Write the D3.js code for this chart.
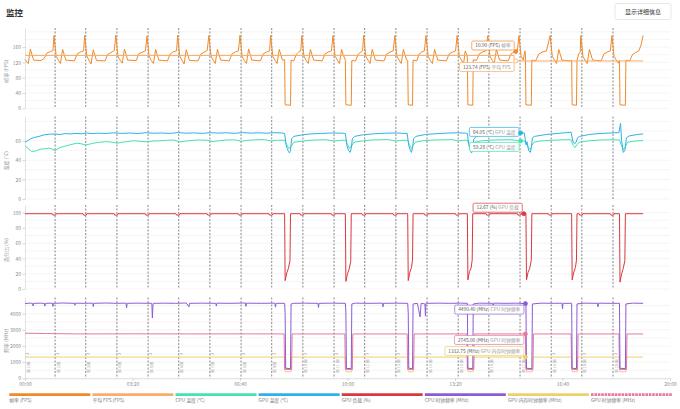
<!DOCTYPE html>
<html>
<head>
<meta charset="utf-8">
<script src="https://cdn.jsdelivr.net/npm/d3@7"></script>
<style>
  body { margin: 0; background: #fff; font-family: "Noto Sans CJK SC", "Noto Sans", sans-serif; }
</style>
</head>
<body>
<svg id="chart" width="680" height="409"></svg>
<script>
////////////////////////////////////////////////////////////////////////
// Data (time in seconds, value)

const lapStarts = [0, 56, 113, 171, 229, 286, 344, 402, 459, 517, 575, 632, 690, 748, 806, 863, 921, 979, 1036, 1094];

const timeTicks = [0, 200, 400, 600, 800, 1000, 1200];

const fpsData = [
  [0,128],[3,122],[6,117],[10,155],[13,140],[16,126],[30,125],[36,131],[41,145],[47,148],[52,151],[54,190],
  [58,136],[62,126],[66,117],[70,154],[73,140],[76,126],[92,124],[97,142],[103,147],[109,150],[111,190],
  [115,137],[119,125],[123,116],[127,153],[130,139],[133,125],[149,124],[154,141],[160,146],[166,151],[169,191],
  [173,135],[177,126],[181,118],[185,155],[188,141],[191,126],[207,125],[212,143],[218,147],[224,150],[227,189],
  [231,136],[235,125],[239,117],[243,154],[246,140],[249,126],[265,124],[270,142],[276,148],[282,150],[284,190],
  [288,136],[292,126],[296,116],[300,153],[303,139],[306,125],[322,124],[327,141],[333,147],[339,151],[342,190],
  [346,137],[350,126],[354,117],[358,154],[361,140],[364,126],[380,124],[385,142],[391,147],[397,150],[400,191],
  [404,136],[408,125],[412,117],[416,155],[419,141],[422,126],[438,124],[443,142],[449,147],[455,150],[457,190],
  [461,136],[465,126],[469,117],[473,154],[476,140],[479,126],[483,127],[484,9],[494,8],[495,126],[500,124],[505,142],[509,147],[513,150],[515,190],
  [519,136],[523,125],[527,117],[531,154],[534,140],[537,126],[553,124],[558,142],[564,147],[570,150],[573,190],
  [577,136],[581,126],[585,117],[589,154],[592,140],[596,126],[597,9],[607,8],[608,125],[615,124],[620,142],[625,147],[628,150],[630,190],
  [634,136],[638,126],[642,117],[646,154],[649,140],[652,126],[668,124],[673,142],[679,147],[685,150],[688,190],
  [692,136],[696,126],[700,117],[704,154],[707,140],[710,126],[712,125],[713,9],[721,8],[722,126],[729,124],[733,142],[738,147],[743,150],[746,190],
  [750,136],[754,125],[758,117],[762,154],[765,140],[768,126],[784,124],[789,142],[795,147],[801,150],[804,190],
  [808,136],[812,126],[816,117],[819,150],[822,140],[823,130],[824,9],[833,8],[834,127],[840,125],[845,142],[851,147],[857,150],[861,190],
  [865,136],[869,126],[873,117],[877,154],[880,140],[883,126],[899,124],[904,142],[910,147],[916,150],[919,190],
  [923,136],[927,126],[930,150],[931,140],[932,9],[942,8],[943,126],[950,124],[956,142],[962,147],[970,150],[977,190],
  [981,136],[985,126],[989,117],[993,154],[996,140],[999,126],[1015,124],[1017,126],[1018,9],[1026,8],[1027,125],[1030,142],[1033,147],[1034,190],
  [1038,136],[1042,126],[1046,117],[1050,154],[1053,140],[1056,126],[1072,124],[1077,142],[1083,147],[1089,150],[1092,190],
  [1096,136],[1100,126],[1104,118],[1106,125],[1107,9],[1117,8],[1118,126],[1125,124],[1130,140],[1136,146],[1142,150],[1146,165],[1150,190]
];

const avgFpsData = [[0,138.2],[910,138.2],[910,123.74],[1150,123.74]];

const gpuTempData = [
  [0,58.5],[5,60],[10,62],[18,63.5],[26,64.5],[35,66],[45,66.8],[55,67],[65,66.5],[75,67.4],[85,67],[95,67.6],[105,67.2],
  [115,68],[125,67.4],[135,67.8],[150,67.5],[165,68.2],[180,67.6],[195,68],[210,67.5],[225,68.3],[240,67.8],[255,68],
  [270,67.6],[285,68.4],[300,67.8],[315,68.1],[330,67.6],[345,68.3],[360,67.9],[375,68.2],[390,67.7],[405,68.4],[420,67.9],
  [435,68.2],[450,67.8],[465,68.3],[478,68],[483,67.5],[486,55],[488,52],[490,49],[492,47.5],[494,50],[496,62],[500,64.5],
  [515,66],[530,67],[550,67.5],[570,68],[590,67.8],[596,67.5],[599,55],[602,50],[605,48],[607,52],[609,62],[613,64.5],
  [630,66.3],[650,67.2],[670,67.8],[690,68],[705,67.6],[711,67.5],[714,55],[717,50],[719,48],[721,53],[723,62],[727,64.5],
  [745,66.5],[765,67.3],[785,67.9],[805,68.2],[820,67.8],[823,67.5],[826,55],[829,49],[831,47.5],[833,52],[835,62],[840,64.5],
  [860,66.5],[880,67.4],[900,68],[915,68.2],[929,68],[932,56],[934,59],[937,50],[940,48],[942,53],[944,63],[948,64.5],
  [970,66.5],[990,67.5],[1010,68.5],[1016,68.8],[1019,60],[1022,57],[1025,58],[1028,63],[1032,64.5],[1050,66.5],[1070,67.5],
  [1090,68],[1105,68.4],[1108,78],[1110,60],[1113,48],[1116,50],[1119,63],[1124,65],[1140,66.5],[1150,67]
];

const cpuTempData = [
  [0,54.8],[5,52.5],[12,49],[20,49.5],[28,51.4],[38,51.8],[46,52.4],[52,51],[56,49.9],[60,51.5],[65,53],[75,54.5],[85,56],
  [96,57.5],[104,57],[112,55.7],[120,56.5],[127,57.5],[140,58.5],[152,59.1],[162,58.5],[171,57.5],[185,58.8],[202,60],
  [214,59.5],[226,59],[240,59.8],[251,60],[265,60.5],[276,60.8],[288,58.8],[300,59.8],[315,60.5],[326,60.8],[340,60.4],
  [350,59.2],[360,60],[375,60.8],[390,61],[402,59.5],[415,60.5],[430,61],[445,61.2],[459,59.8],[470,60.6],[483,60.5],
  [487,56],[491,52],[495,54],[500,58.5],[515,59.5],[530,60.5],[545,60.8],[560,61],[575,59.8],[590,60.6],[597,60.5],
  [600,56],[604,52],[608,55],[612,58.5],[630,60],[645,60.8],[660,61],[675,61.2],[690,59.8],[705,60.6],[712,60.5],
  [715,56],[719,52],[722,55],[726,58.5],[740,60],[760,60.8],[780,61],[795,61.2],[806,59.8],[815,60.5],[823,60.5],
  [826,56],[830,52],[833,55],[837,58.5],[850,60],[870,60.8],[890,61],[905,61],[921,59.8],[928,60],[932,58],[936,53],
  [940,51],[943,55],[947,58.5],[960,59.8],[980,60.5],[1000,61],[1016,61],[1019,56],[1023,53],[1027,56],[1031,58.5],
  [1050,60],[1070,60.8],[1090,61],[1106,60.8],[1109,56],[1113,51],[1117,54],[1121,58.5],[1135,59.8],[1150,60.2]
];

const gpuLoadData = [
  [0,98.6],[51,98.6],[52,96.8],[57,96.8],[58,98.6],[108,98.6],[109,96.8],[114,96.8],[115,98.6],[166,98.6],[167,96.8],
  [172,96.8],[173,98.6],[224,98.6],[225,96.8],[230,96.8],[231,98.6],[281,98.6],[282,96.8],[287,96.8],[288,98.6],
  [339,98.6],[340,96.8],[345,96.8],[346,98.6],[397,98.6],[398,96.8],[403,96.8],[404,98.6],[454,98.6],[455,96.8],
  [460,96.8],[461,98.6],[483,98.6],[484,11],[487,21],[490,27],[493,37],[494,98.6],[512,98.6],[513,96.8],[518,96.8],
  [519,98.6],[570,98.6],[571,96.8],[576,96.8],[577,98.6],[596,98.6],[597,10],[600,20],[603,26],[606,36],[607,98.6],
  [627,98.6],[628,96.8],[633,96.8],[634,98.6],[685,98.6],[686,96.8],[691,96.8],[692,98.6],[712,98.6],[713,11],[716,22],
  [719,28],[721,38],[722,98.6],[743,98.6],[744,96.8],[749,96.8],[750,98.6],[801,98.6],[802,96.8],[807,96.8],[808,98.6],
  [823,98.6],[824,12],[827,23],[830,27.5],[832,38],[833,98.6],[858,98.6],[859,96.8],[864,96.8],[865,98.6],[916,98.6],
  [917,96.8],[922,96.8],[923,98.6],[932,98.6],[933,12],[936,22],[939,27],[942,38],[943,98.6],[974,98.6],[975,96.8],
  [980,96.8],[981,98.6],[1017,98.6],[1018,12],[1021,22],[1024,28],[1026,38],[1027,98.6],[1031,98.6],[1032,96.8],
  [1037,96.8],[1038,98.6],[1089,98.6],[1090,96.8],[1095,96.8],[1096,98.6],[1106,98.6],[1107,9],[1110,20],[1113,27],
  [1116,37],[1117,98.6],[1150,98.6]
];

const cpuClockData = [
  [0,4630],[10,4650],[14,4640],[15,4480],[16,4640],[30,4650],[36,4630],[37,4470],[38,4640],[51,4650],[52,4450],[53,4640],
  [70,4660],[92,4640],[93,4520],[94,4650],[110,4640],[126,4650],[127,4440],[128,4640],[150,4660],[170,4640],[188,4650],
  [189,4350],[190,4640],[210,4650],[236,4640],[237,3730],[238,4500],[239,4640],[260,4650],[280,4640],[300,4660],
  [305,4420],[306,4640],[330,4650],[355,4640],[356,4470],[357,4650],[380,4640],[410,4660],[411,4450],[412,4650],
  [440,4640],[465,4650],[466,4400],[467,4640],[483,4640],[484,4000],[485,620],[494,600],[495,4600],[500,4640],[520,4650],
  [545,4640],[546,4380],[547,4640],[570,4650],[596,4640],[597,4100],[598,610],[607,600],[608,4600],[615,4650],[640,4640],
  [665,4650],[666,4420],[667,4640],[690,4650],[712,4640],[713,4050],[714,620],[721,600],[722,4600],[730,4640],[735,3800],
  [737,4640],[744,4600],[745,3850],[746,4640],[770,4650],[790,4640],[810,4650],[823,4640],[824,620],[833,600],[834,4600],
  [845,4650],[870,4640],[871,4450],[872,4650],[895,4640],[915,4650],[932,4620],[933,620],[943,600],[944,4600],[960,4650],
  [985,4640],[999,4650],[1000,4300],[1001,4640],[1017,4640],[1018,620],[1026,600],[1027,4600],[1040,4650],[1065,4640],
  [1066,4420],[1067,4650],[1090,4640],[1106,4640],[1107,620],[1117,600],[1118,4600],[1130,4650],[1150,4640]
];

const gpuClockData = [
  [0,2790],[40,2770],[100,2745],[200,2752],[300,2745],[400,2750],[482,2745],[483,560],[496,540],[497,2745],[595,2745],
  [596,560],[609,540],[610,2745],[711,2745],[712,560],[723,540],[724,2745],[822,2745],[823,560],[835,540],[836,2745],
  [931,2745],[932,560],[945,540],[946,2745],[1016,2745],[1017,560],[1028,540],[1029,2745],[1105,2745],[1106,560],
  [1119,540],[1120,2745],[1150,2745]
];

const memClockData = [
  [0,1312.75],[483,1312.75],[484,405],[495,405],[496,1312.75],[596,1312.75],[597,405],[608,405],[609,1312.75],
  [712,1312.75],[713,405],[722,405],[723,1312.75],[823,1312.75],[824,405],[834,405],[835,1312.75],[932,1312.75],
  [933,405],[944,405],[945,1312.75],[1017,1312.75],[1018,405],[1027,405],[1028,1312.75],[1106,1312.75],[1107,405],
  [1118,405],[1119,1312.75],[1150,1312.75]
];

const legendNames = ["帧率 (FPS)", "平均 FPS (FPS)", "CPU 温度 (°C)", "GPU 温度 (°C)", "GPU 负载 (%)",
                     "CPU 时钟频率 (MHz)", "GPU 内存时钟频率 (MHz)", "GPU 时钟频率 (MHz)"];

const tipValues = ["10.90 (FPS)", "123.74 (FPS)", "64.05 (°C)", "59.28 (°C)", "12.67 (%)",
                   "4490.40 (MHz)", "2745.00 (MHz)", "1312.75 (MHz)"];
const tipLabels = ["帧率", "平均 FPS", "GPU 温度", "CPU 温度", "GPU 负载",
                   "CPU 时钟频率", "GPU 时钟频率", "GPU 内存时钟频率"];

////////////////////////////////////////////////////////////////////////
// Setup

const svg = d3.select("#chart");
const font = '"Noto Sans CJK SC", "Noto Sans", sans-serif';
const x = d3.scaleLinear().domain([0, 1200]).range([25, 670]);

const series = {
  fps:     { data: fpsData,      color: "#ef8a2c" },
  avg:     { data: avgFpsData,   color: "#f8ae68" },
  cpuTemp: { data: cpuTempData,  color: "#44e2b4" },
  gpuTemp: { data: gpuTempData,  color: "#2bb3e8" },
  load:    { data: gpuLoadData,  color: "#d83840" },
  cpuClk:  { data: cpuClockData, color: "#8d5cd4" },
  memClk:  { data: memClockData, color: "#ecd06e" },
  gpuClk:  { data: gpuClockData, color: "#e47aa2" }
};
const legendKeys = ["fps", "avg", "cpuTemp", "gpuTemp", "load", "cpuClk", "memClk", "gpuClk"];

const panels = [
  { top: 28,    bottom: 108.3, max: 210,  ticks: [0, 40, 80, 120, 160],          grid: d3.range(0, 201, 20),
    label: "帧率 (FPS)", keys: ["fps", "avg"] },
  { top: 116.5, bottom: 199,   max: 85,   ticks: [0, 20, 40, 60],                grid: d3.range(0, 81, 10),
    label: "温度 (°C)", keys: ["cpuTemp", "gpuTemp"] },
  { top: 205,   bottom: 289,   max: 110,  ticks: [0, 20, 40, 60, 80, 100],       grid: d3.range(0, 101, 10),
    label: "百分比 (%)", keys: ["load"] },
  { top: 297.5, bottom: 378.3, max: 5000, ticks: [0, 1000, 2000, 3000, 4000],    grid: d3.range(0, 4501, 500),
    label: "频率 (MHz)", keys: ["memClk", "gpuClk", "cpuClk"] }
];

// Linear lookup of a series value at time t
function valueAt(data, t) {
  for (let i = 1; i < data.length; i++) {
    if (data[i][0] >= t) {
      const a = data[i - 1], b = data[i];
      const f = b[0] === a[0] ? 1 : (t - a[0]) / (b[0] - a[0]);
      return a[1] + (b[1] - a[1]) * f;
    }
  }
  return data[data.length - 1][1];
}

////////////////////////////////////////////////////////////////////////
// Header

svg.append("text").attr("x", 6).attr("y", 15.5)
  .attr("font-family", font).attr("font-size", 8.5).attr("font-weight", 600).attr("fill", "#333")
  .text("监控");

svg.append("rect").attr("x", 615).attr("y", 3.5).attr("width", 56).attr("height", 16).attr("rx", 2)
  .attr("fill", "#fff").attr("stroke", "#dcdcdc").attr("stroke-width", 0.7);
svg.append("text").attr("x", 643).attr("y", 13.8).attr("text-anchor", "middle")
  .attr("font-family", font).attr("font-size", 6).attr("fill", "#333")
  .text("显示详细信息");

////////////////////////////////////////////////////////////////////////
// Panels

panels.forEach(function (p) {
  p.y = d3.scaleLinear().domain([0, p.max]).range([p.bottom, p.top]);
  const g = svg.append("g");

  g.selectAll("line.grid").data(p.grid).enter().append("line")
    .attr("x1", 25).attr("x2", 670)
    .attr("y1", d => p.y(d)).attr("y2", d => p.y(d))
    .attr("stroke", "#eeeeee").attr("stroke-width", 0.6);

  g.append("g").attr("transform", "translate(25,0)")
    .call(d3.axisLeft(p.y).tickValues(p.ticks).tickFormat(d3.format("d"))
      .tickSize(2.5).tickSizeOuter(0).tickPadding(1.5))
    .call(s => {
      s.select(".domain").attr("stroke", "#cfcfcf").attr("stroke-width", 0.6);
      s.selectAll(".tick line").attr("stroke", "#bbb").attr("stroke-width", 0.6);
      s.selectAll("text").attr("fill", "#8a8a8a").attr("font-size", 5).attr("font-family", font);
    });

  const cy = (p.top + p.bottom) / 2 + 3;
  g.append("text").attr("transform", "translate(8," + cy + ") rotate(-90)")
    .attr("text-anchor", "middle").attr("font-family", font).attr("font-size", 5).attr("fill", "#999")
    .text(p.label);

  // lap markers
  g.selectAll("line.lap").data(lapStarts.filter(t => t > 0)).enter().append("line")
    .attr("x1", d => x(d)).attr("x2", d => x(d))
    .attr("y1", p.top).attr("y2", p.bottom)
    .attr("stroke", "#555").attr("stroke-width", 0.7).attr("stroke-dasharray", "2,1.5");

  const line = d3.line().x(d => x(d[0])).y(d => p.y(d[1]));
  p.keys.forEach(k => {
    g.append("path").attr("d", line(series[k].data))
      .attr("fill", "none").attr("stroke", series[k].color)
      .attr("stroke-width", 1).attr("stroke-linejoin", "round");
  });
});

// lap labels in the clock panel
const clk = panels[3];
lapStarts.forEach(function (t, i) {
  const lx = x(t);
  svg.append("path").attr("d", "M" + (lx + 0.5) + ",353.5 h3 v1.2")
    .attr("fill", "none").attr("stroke", "#999").attr("stroke-width", 0.5);
  svg.append("text").attr("transform", "translate(" + (lx + 4.5) + ",373) rotate(-90)")
    .attr("font-family", font).attr("font-size", 3.8).attr("fill", "#aaa")
    .text("第 " + (i + 1) + " 圈");
});

// time axis
svg.append("g").attr("transform", "translate(0," + clk.bottom + ")")
  .call(d3.axisBottom(x).tickValues(timeTicks).tickSize(2.5).tickSizeOuter(0).tickPadding(2)
    .tickFormat(d => d3.format("02")(Math.floor(d / 60)) + ":" + d3.format("02")(d % 60)))
  .call(s => {
    s.select(".domain").attr("stroke", "#cfcfcf").attr("stroke-width", 0.6);
    s.selectAll(".tick line").attr("stroke", "#bbb").attr("stroke-width", 0.6);
    s.selectAll("text").attr("fill", "#8a8a8a").attr("font-size", 5).attr("font-family", font);
  });

////////////////////////////////////////////////////////////////////////
// Hover markers and tooltips

const tipOrder = ["fps", "avg", "gpuTemp", "cpuTemp", "load", "cpuClk", "gpuClk", "memClk"];
const tips = [
  { key: "fps",     panel: 0, t: 913, side: "above",  hollow: false },
  { key: "avg",     panel: 0, t: 913, side: "below",  hollow: true  },
  { key: "gpuTemp", panel: 1, t: 922, side: "middle", hollow: false },
  { key: "cpuTemp", panel: 1, t: 922, side: "below",  hollow: false },
  { key: "load",    panel: 2, t: 928, side: "above",  hollow: false },
  { key: "cpuClk",  panel: 3, t: 931, side: "below",  hollow: false },
  { key: "gpuClk",  panel: 3, t: 931, side: "below",  hollow: false },
  { key: "memClk",  panel: 3, t: 931, side: "above",  hollow: false }
];

tips.forEach(function (tp) {
  const s = series[tp.key];
  const ti = tipOrder.indexOf(tp.key);
  const mx = x(tp.t), my = panels[tp.panel].y(valueAt(s.data, tp.t));

  const g = svg.append("g");
  const txt = g.append("text").attr("font-family", font).attr("font-size", 4.8);
  txt.append("tspan").attr("fill", "#555").text(tipValues[ti] + " ");
  txt.append("tspan").attr("fill", "#999").text(tipLabels[ti]);
  const w = txt.node().getComputedTextLength() + 7, h = 9;
  const bx = mx - 1.5 - w;
  const by = tp.side === "above" ? my - 1.5 - h : tp.side === "below" ? my + 1.5 : my - h / 2 - 1;
  g.insert("rect", "text").attr("x", bx).attr("y", by).attr("width", w).attr("height", h).attr("rx", 1.5)
    .attr("fill", "#fff").attr("stroke", s.color).attr("stroke-width", 0.7);
  txt.attr("x", bx + 3.5).attr("y", by + 6.2);

  svg.append("circle").attr("cx", mx).attr("cy", my).attr("r", 2)
    .attr("fill", tp.hollow ? "#fff" : s.color).attr("stroke", s.color).attr("stroke-width", 0.8);
});

////////////////////////////////////////////////////////////////////////
// Legend

const lg = svg.append("g");
legendKeys.forEach(function (k, i) {
  const lx = 9.3 + i * 83.1;
  const bar = lg.append("line").attr("x1", lx).attr("x2", lx + 81).attr("y1", 394.7).attr("y2", 394.7)
    .attr("stroke", series[k].color).attr("stroke-width", 2.7);
  if (k === "gpuClk") bar.attr("stroke-dasharray", "2.6,0.8");
  lg.append("text").attr("x", lx).attr("y", 402.3)
    .attr("font-family", font).attr("font-size", 4.8).attr("fill", "#777")
    .text(legendNames[i]);
});
</script>
</body>
</html>
